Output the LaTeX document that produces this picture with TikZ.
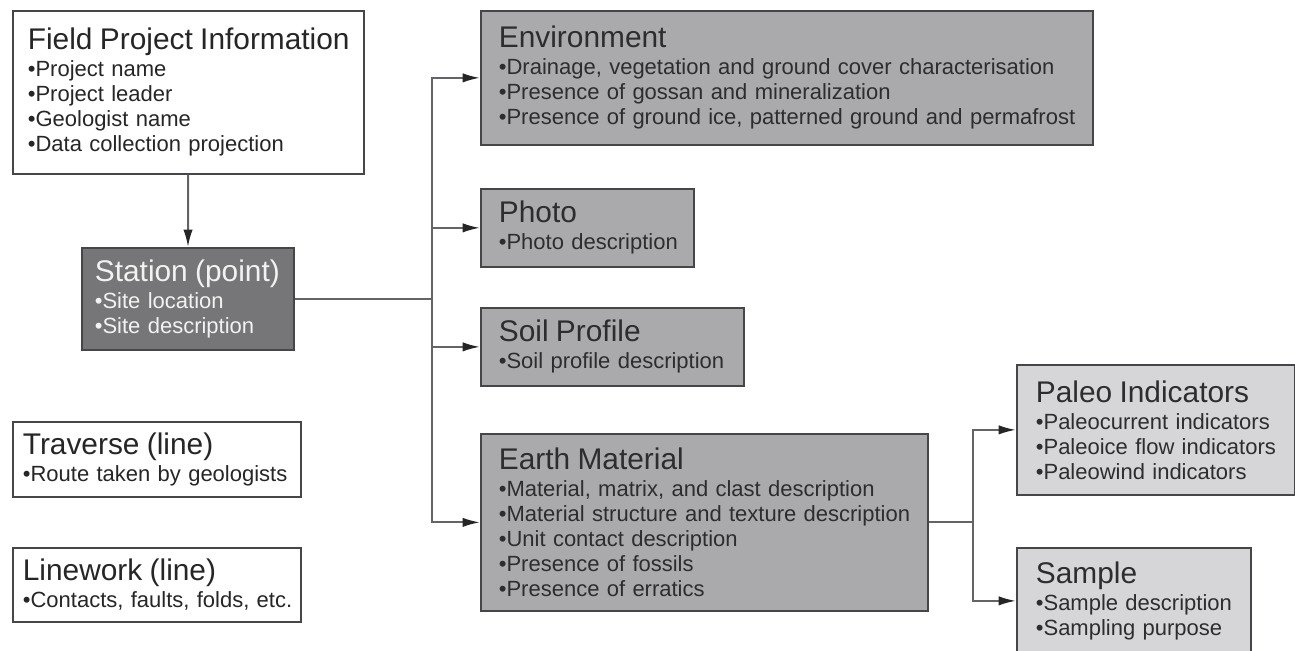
\documentclass[tikz,border=0pt]{standalone}
\usepackage{fontspec}
\setmainfont{Liberation Sans}
\usetikzlibrary{arrows.meta}

\definecolor{boxline}{RGB}{70,70,72}
\definecolor{darkfill}{RGB}{118,118,120}
\definecolor{midfill}{RGB}{170,170,173}
\definecolor{lightfill}{RGB}{214,214,216}
\definecolor{linkgray}{RGB}{100,100,102}
\definecolor{textgray}{RGB}{45,45,47}

\newcommand{\boxtitle}[1]{\mbox{\fontsize{22.4}{26}\selectfont #1}\\[1.5pt]}
\newcommand{\bul}[1]{\mbox{•#1}}

\tikzset{
  infobox/.style={draw=boxline, line width=1.3pt, anchor=north west, align=left,
    inner ysep=0pt, font=\fontsize{16.5}{18.75}\selectfont},
  whitebox/.style={infobox, fill=white, text=black!85},
  darkbox/.style={infobox, fill=darkfill, text=white!95!black},
  midbox/.style={infobox, fill=midfill, text=textgray},
  lightbox/.style={infobox, fill=lightfill, text=textgray},
  link/.style={draw=linkgray, line width=1.5pt},
  linkarrow/.style={link, -{Latex[length=13pt,width=7pt,black!85]}}
}

\begin{document}
\begin{tikzpicture}[x=0.75pt,y=-0.75pt]
\useasboundingbox (0,0) rectangle (1295,650);

% left column
\node[whitebox, inner xsep=11.25pt, text width=240.75pt, minimum height=122.25pt] (fpi) at (12,10)
  {\boxtitle{Field Project Information}\bul{Project name}\\\bul{Project leader}\\\bul{Geologist name}\\\bul{Data collection projection}};
\node[darkbox, inner xsep=9.75pt, text width=139.5pt, minimum height=76.5pt] (station) at (81,247)
  {\boxtitle{Station (point)}\bul{Site location}\\\bul{Site description}};
\node[whitebox, inner xsep=7.5pt, text width=201pt, minimum height=56.25pt] (traverse) at (12,421)
  {\boxtitle{Traverse (line)}\bul{Route taken by geologists}};
\node[whitebox, inner xsep=7.5pt, text width=201pt, minimum height=55.5pt] (linework) at (12,547)
  {\boxtitle{Linework (line)}\bul{Contacts, faults, folds, etc.}};

% middle column
\node[midbox, inner xsep=13.5pt, text width=432pt, minimum height=100.5pt] (env) at (480,10)
  {\boxtitle{Environment}\bul{Drainage, vegetation and ground cover characterisation}\\\bul{Presence of gossan and mineralization}\\\bul{Presence of ground ice, patterned ground and permafrost}};
\node[midbox, inner xsep=13.5pt, text width=132.75pt, minimum height=58.5pt] (photo) at (480,188)
  {\boxtitle{Photo}\bul{Photo description}};
\node[midbox, inner xsep=13.5pt, text width=170.25pt, minimum height=58.5pt] (soil) at (480,307)
  {\boxtitle{Soil Profile}\bul{Soil profile description}};
\node[midbox, inner xsep=13.5pt, text width=308.25pt, minimum height=132.75pt] (earth) at (480,433)
  {\boxtitle{Earth Material}\bul{Material, matrix, and clast description}\\\bul{Material structure and texture description}\\\bul{Unit contact description}\\\bul{Presence of fossils}\\\bul{Presence of erratics}};

% right column
\node[lightbox, inner xsep=14.25pt, text width=180pt, minimum height=97.5pt] (paleo) at (1016,364)
  {\boxtitle{Paleo Indicators}\bul{Paleocurrent indicators}\\\bul{Paleoice flow indicators}\\\bul{Paleowind indicators}};
\node[lightbox, inner xsep=14.25pt, text width=147pt, minimum height=79.5pt] (sample) at (1016,547)
  {\boxtitle{Sample}\bul{Sample description}\\\bul{Sampling purpose}};

% connectors
\path (station.east) ++(137,0) coordinate (split1);
\path (earth.east) ++(44,0) coordinate (split2);
\draw[linkarrow] (fpi) -- (station);
\draw[link] (station.east) -- (split1);
\draw[linkarrow] (split1) |- (env.west);
\draw[linkarrow] (split1) |- (photo.west);
\draw[linkarrow] (split1) |- (soil.west);
\draw[linkarrow] (split1) |- (earth.west);
\draw[link] (earth.east) -- (split2);
\draw[linkarrow] (split2) |- (paleo.west);
\draw[linkarrow] (split2) |- (sample.west);
\end{tikzpicture}
\end{document}
